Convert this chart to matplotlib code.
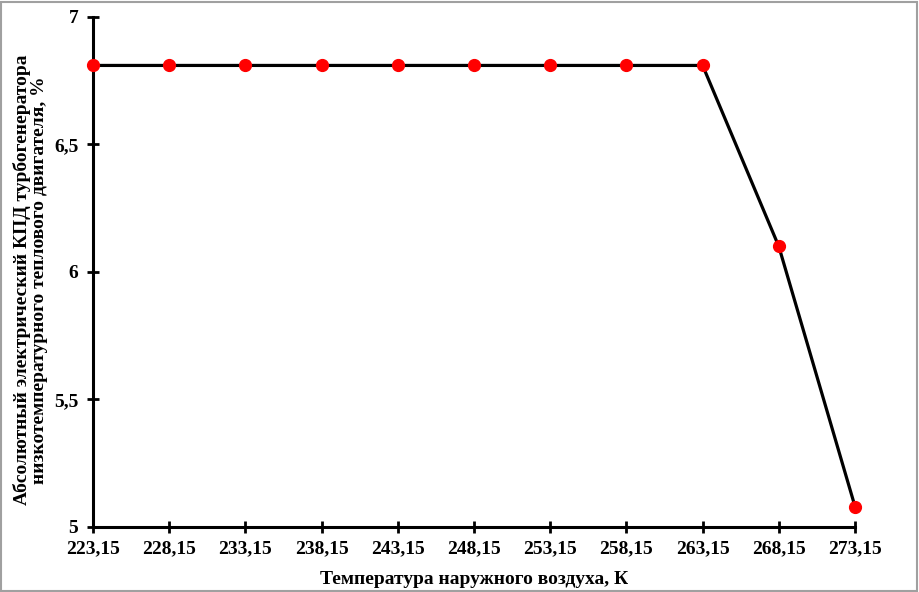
import matplotlib.pyplot as plt
from matplotlib.patches import Rectangle

temps = ['223,15', '228,15', '233,15', '238,15', '243,15', '248,15',
         '253,15', '258,15', '263,15', '268,15', '273,15']
efficiency = [6.81, 6.81, 6.81, 6.81, 6.81, 6.81, 6.81, 6.81, 6.81, 6.10, 5.08]
y_ticks = [5, 5.5, 6, 6.5, 7]
y_tick_labels = ['5', '5,5', '6', '6,5', '7']

plt.rcParams['font.family'] = ['Liberation Serif', 'DejaVu Serif']
plt.rcParams['font.weight'] = 'bold'

fig = plt.figure(figsize=(9.19, 5.92), dpi=100)
ax = fig.add_axes([0.1012, 0.1098, 0.8292, 0.8615])

x = list(range(len(temps)))
ax.plot(x, efficiency, color='black', linewidth=2.3, zorder=2, clip_on=False)
ax.plot(x, efficiency, linestyle='none', marker='o', markersize=8.5,
        color='#ff0000', zorder=3, clip_on=False)

ax.set_xlim(0, len(temps) - 1)
ax.set_ylim(5, 7)
ax.set_xticks(x)
ax.set_xticklabels(temps)
ax.set_yticks(y_ticks)
ax.set_yticklabels(y_tick_labels)

for side in ['top', 'right']:
    ax.spines[side].set_visible(False)
for side in ['left', 'bottom']:
    ax.spines[side].set_linewidth(2.2)
    ax.spines[side].set_color('black')

ax.tick_params(axis='both', direction='inout', length=9, width=2,
               labelsize=14, colors='black')
ax.tick_params(axis='x', pad=5)
ax.tick_params(axis='y', pad=6)
for lab in ax.get_xticklabels() + ax.get_yticklabels():
    lab.set_fontweight('bold')

ax.set_xlabel('Температура наружного воздуха, К', fontsize=14,
              fontweight='bold', labelpad=10)
ax.set_ylabel('Абсолютный электрический КПД турбогенератора\n'
              'низкотемпературного теплового двигателя, %',
              fontsize=14, fontweight='bold', labelpad=4,
              linespacing=1.05)
ax.yaxis.label.set_y(0.484)

fig.patches.append(Rectangle((0.001, 0.002), 0.997, 0.995, transform=fig.transFigure,
                             fill=False, edgecolor='#a0a0a0', linewidth=1.5))

fig.savefig('out.png', dpi=100)
